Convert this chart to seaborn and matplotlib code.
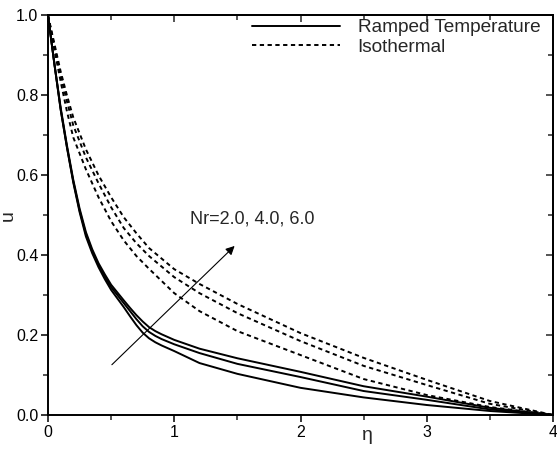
import matplotlib
matplotlib.use("Agg")
import matplotlib.pyplot as plt
import seaborn as sns
from matplotlib.ticker import MultipleLocator

# ---- data ----
eta_ramped = [0, 0.05, 0.1, 0.15, 0.2, 0.25, 0.3, 0.35, 0.4, 0.45, 0.5, 0.6, 0.65, 0.7, 0.75,
              0.8, 0.85, 0.9, 1.0, 1.2, 1.5, 2.0, 2.5, 3.0, 3.5, 4.0]
ramped_nr2 = [1.0, 0.88, 0.765, 0.67, 0.582, 0.508, 0.447, 0.405, 0.37, 0.34, 0.313, 0.27,
              0.247, 0.225, 0.206, 0.192, 0.182, 0.174, 0.16, 0.13, 0.103, 0.068, 0.044,
              0.025, 0.01, 0.0]
ramped_nr4 = [1.0, 0.88, 0.765, 0.67, 0.585, 0.512, 0.453, 0.41, 0.375, 0.346, 0.32, 0.28,
              0.26, 0.24, 0.222, 0.208, 0.198, 0.19, 0.177, 0.155, 0.128, 0.095, 0.06,
              0.038, 0.014, 0.0]
ramped_nr6 = [1.0, 0.88, 0.77, 0.675, 0.589, 0.517, 0.458, 0.415, 0.38, 0.352, 0.326, 0.287,
              0.268, 0.25, 0.234, 0.22, 0.21, 0.202, 0.188, 0.166, 0.142, 0.108, 0.072,
              0.046, 0.018, 0.0]

eta_iso = [0, 0.05, 0.1, 0.15, 0.2, 0.3, 0.4, 0.5, 0.6, 0.7, 0.8, 1.0, 1.2, 1.5,
           2.0, 2.5, 3.0, 3.5, 4.0]
iso_nr2 = [1.0, 0.915, 0.835, 0.76, 0.695, 0.615, 0.545, 0.485, 0.437, 0.398, 0.366,
           0.305, 0.26, 0.21, 0.15, 0.09, 0.05, 0.02, 0.0]
iso_nr4 = [1.0, 0.925, 0.85, 0.785, 0.725, 0.645, 0.58, 0.52, 0.468, 0.43, 0.398,
           0.345, 0.305, 0.255, 0.185, 0.123, 0.075, 0.028, 0.0]
iso_nr6 = [1.0, 0.93, 0.86, 0.80, 0.745, 0.665, 0.60, 0.545, 0.495, 0.455, 0.418,
           0.365, 0.328, 0.278, 0.205, 0.143, 0.088, 0.035, 0.0]

legend_labels = ["Ramped Temperature", "Isothermal"]
annotation_text = "Nr=2.0, 4.0, 6.0"
x_ticks = [0, 1, 2, 3, 4]
y_ticks = [0.0, 0.2, 0.4, 0.6, 0.8, 1.0]

# ---- styling ----
sns.set_theme(style="ticks")
plt.rcParams["font.family"] = ["Liberation Sans", "DejaVu Sans"]

fig = plt.figure(figsize=(5.57, 4.53), dpi=100)
ax = fig.add_axes([0.0862, 0.0839, 0.9066, 0.8819])

lw = 1.4
for i, ys in enumerate([ramped_nr2, ramped_nr4, ramped_nr6]):
    sns.lineplot(x=eta_ramped, y=ys, ax=ax, color="black", lw=lw,
                 label=legend_labels[0] if i == 0 else None, sort=False)
for i, ys in enumerate([iso_nr2, iso_nr4, iso_nr6]):
    sns.lineplot(x=eta_iso, y=ys, ax=ax, color="black", lw=lw,
                 label=legend_labels[1] if i == 0 else None, sort=False)
for line in ax.get_lines()[3:6]:
    line.set_linestyle((0, (2.2, 1.8)))

ax.set_xlim(0, 4)
ax.set_ylim(0, 1)
ax.set_xticks(x_ticks)
ax.set_yticks(y_ticks)
ax.set_xticklabels([str(t) for t in x_ticks])
ax.set_yticklabels([f"{t:.1f}" for t in y_ticks])
ax.xaxis.set_minor_locator(MultipleLocator(0.5))
ax.yaxis.set_minor_locator(MultipleLocator(0.1))
ax.tick_params(axis="both", which="major", direction="out", length=5, width=1.1,
               labelsize=11.5, colors="black", pad=2)
ax.tick_params(axis="both", which="minor", direction="out", length=3.5, width=1.1)
for s in ax.spines.values():
    s.set_visible(True)
    s.set_linewidth(1.4)
    s.set_color("black")

# mirrored inward ticks on top and right
top = ax.secondary_xaxis("top")
top.set_xticks(x_ticks)
top.xaxis.set_minor_locator(MultipleLocator(0.5))
top.tick_params(which="major", direction="in", length=5, width=1.1, labeltop=False)
top.tick_params(which="minor", direction="in", length=3.5, width=1.1)
top.spines["top"].set_linewidth(1.4)
right = ax.secondary_yaxis("right")
right.set_yticks(y_ticks)
right.yaxis.set_minor_locator(MultipleLocator(0.1))
right.tick_params(which="major", direction="in", length=5, width=1.1, labelright=False)
right.tick_params(which="minor", direction="in", length=3.5, width=1.1)
right.spines["right"].set_linewidth(1.4)

ax.set_xlabel("η", fontsize=14)
ax.xaxis.label.set_va("baseline")
ax.xaxis.set_label_coords(0.632, -0.063)
ax.set_ylabel("u", fontsize=14)
ax.yaxis.set_label_coords(-0.062, 0.5)

ax.annotate("", xy=(1.494, 0.428), xytext=(0.49, 0.121),
            arrowprops=dict(arrowstyle="-|>", color="black", lw=0.8,
                            mutation_scale=13))
ax.text(1.124, 0.49, annotation_text, fontsize=13, va="center", ha="left")

leg = ax.legend(loc="upper right", bbox_to_anchor=(0.975, 0.991), frameon=False,
                fontsize=13.7, handlelength=4.6, handletextpad=0.95,
                labelspacing=0.1, borderpad=0, borderaxespad=0)

fig.savefig("out.png", dpi=100, facecolor="white")
